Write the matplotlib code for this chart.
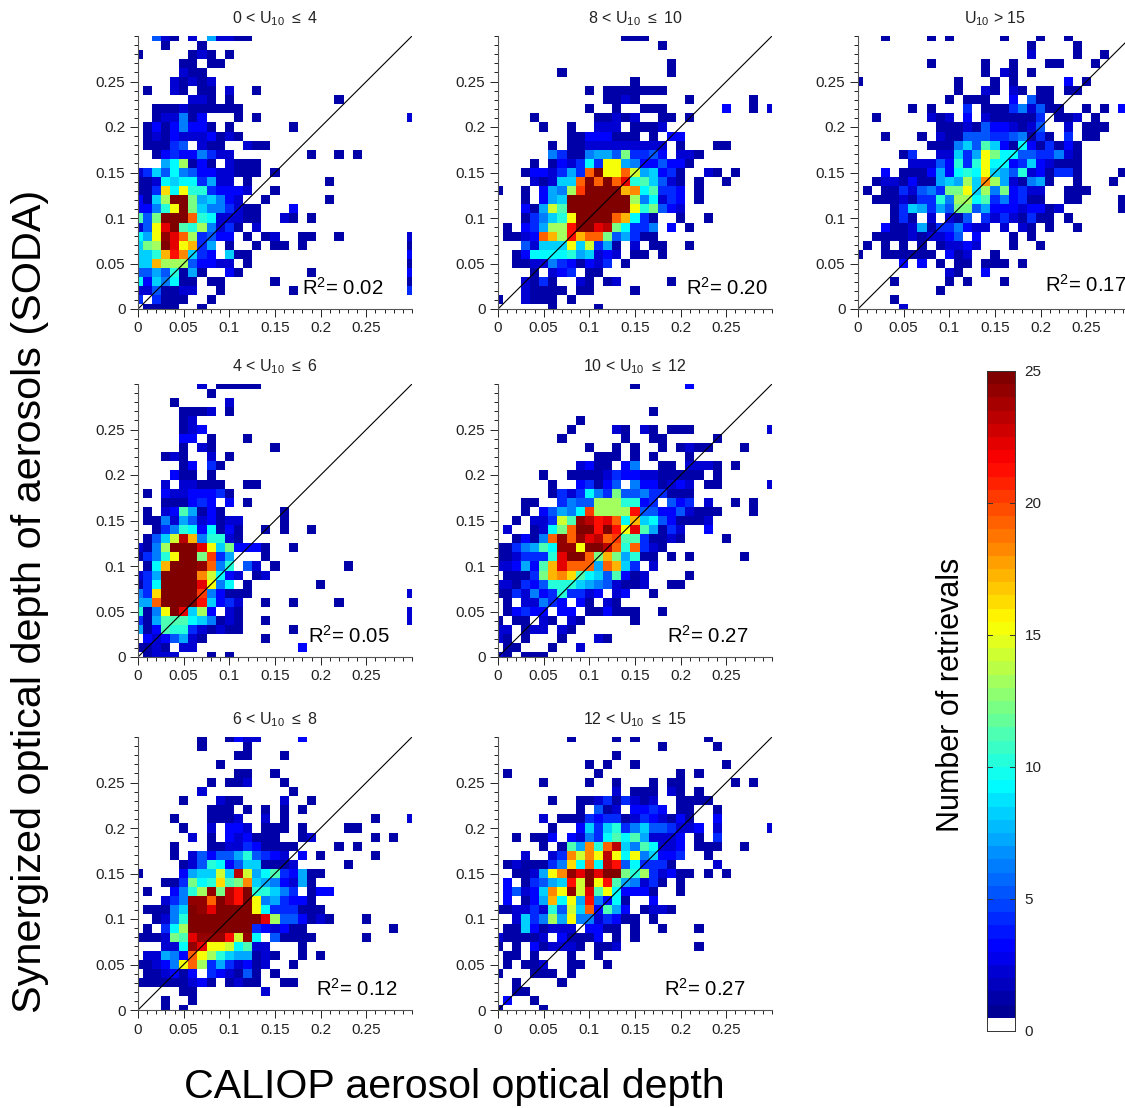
import numpy as np
import matplotlib
matplotlib.use('Agg')
from matplotlib import pyplot as plt
from matplotlib.colors import ListedColormap, LinearSegmentedColormap, Normalize

W, H = 1125, 1108
plt.rcParams['font.family'] = ['Liberation Sans', 'DejaVu Sans']
plt.rcParams['mathtext.default'] = 'regular'

# counts per cell, top row (0.30) first, left column (0) first
# . = 0, 1-9, a = 10 ... p = 25, short rows are empty to the right
p_0_4 = [
    "..521.2.72211", "...1...1", "1.....121.1", ".....11.11", ".....211", "....21212",
    ".1..21.11.2..1", "......221.1...........1", "..1112111111",
    "..122613...1.1................2", ".13136331.1......1", ".12132223121",
    ".11145.211..211", "..134336422........1..1.1", "...79d131.2111", "24859653322111.1",
    "11298994722.1........1", "114g9faa43332..1", "318dppc78632..1......1",
    "336afpc8664211...3", "b5cpppja922211..21.1", "25fmpbad6241.2",
    "97fomjd4533.1.12..11..1.......2", "8cdpmfh47.1..1.11.1...........1",
    "88ahli843.811.................3", "88hddd53322.1.................1",
    "5575a171..31.......1..........3", "9386911.11.....1..............1",
    "2251122..1.......1............4", "4.4111..1", ".1111..1",
]
p_8_10 = [
    "..............111", "..................1", "", "...................1",
    ".......1...........1", "...............1", "..........1.1111111",
    "............1121.....1......1", "..........1..1..111......3..1.2",
    "....1......11212..11.1", ".....1..1..222.1112",
    "........11333111.1.33", "......1.11222222222.1...11", "......64116775c4453.221",
    "....1.132494ff76335331", "...1332474jpffje78341..21.1", "....21288jpjpjmab8521.1..1",
    "1..1.376dkpppphi9b443.1", "...1.378pppppppd69243.1", "...317ebpppppppfac532",
    "...1468afppppjh941..1..1", ".1.347ddlppmnc9446.3.1", ".1123jhdlhjjc57411",
    "...52888f8e471.2.11..1", "..139999a78232.11.1", "..11226431324.1",
    "....1.234.11", "...2141..21.12.....1", "...21111.11....1", "1..2111.1", "......1....1",
]
p_over_15 = [
    "...1....1.1.....1...1..1", "...................1....1", "...................2....1..1",
    "........1.....1..1...11...1", "..............1.21.1", "1..........1...1.1.....3.1",
    "...........1..21.21.11.11", "..........1.111..3.511", "......1.1...4.111462511..1.1.3",
    "..1.....212.3.2111114.112.1", ".........111215332125..2.111",
    "...1...1.2115554456141.4.11", "........111685b8319314131",
    ".....14..22847fc995544621", "......22253a4af9934832111", "...3.1113739a9f875a231441....1",
    "..1221311787d8id721671..1...1", ".1.1142564ccf8d6c3422..111",
    "..1112144a6dd9b463411..11....1", "....1487475cc5733323312......1",
    "....141.2.215.42421411.1", "...311271446322.2.21.1..1", "..1111212235.3...1.1",
    ".1.1.1.1.12232...1..1", "1..111111.312..1", ".....3.3.1.11.111.1",
    "..........21..3", "....1.....1.1...1", ".........1", "....1", ".....2",
]
p_4_6 = [
    ".......2.11111", "........1", "....1.....2", ".....1112.1", ".....12", ".....123",
    ".....33.1...1", ".....1.21......1", "...121..2.1", ".....13.41", "....311.1",
    "...2.22111..11", ".1.32233341", "...111343.3.1", ".1.23b7131......1",
    ".11627523122....1", "..146a939131..1.1..1", ".158enh6aa21", "216dpppmf8c3331..1",
    "146afppck47...1", ".19hpppoj6a.52.1.......1", "247ppppie932.12",
    "149ppppmf69.1.......1", "64gppppk63111.................2",
    "77jppppl8342..1..1....1", "a16fpm8d3.21..................2",
    "417bbb986121..1...............2", "713baa421211.....1", ".3235721......1",
    "1121.22...........3", ".1222...1.1",
]
p_10_12 = [
    "...............1.....3", "", "", ".................1", ".........1",
    "........1....21.21.111........2", ".......1......1..11.....1",
    "..........1..1.1..1.1211...1", "...........111.1.1...1", ".........2311.36..11.2221.1",
    ".....1..111124332211111.1", "......1..34135.6331232.11.....2",
    "......1424964c55644111", "...11..4655dddaa34.534.2..1.1",
    "...1.35769kddddl553352111...1", "..1.224ebonlmj9h89531112",
    ".2..129cjpplplfmb7142..3", "..1316jojomnjkbb41121....1", "11467b9oofppnjaj421",
    "112444amppjchc7a11.1.1.....1", "22373bhmjjj7jh84.2", ".1114chigb985b312....1",
    "221435aaa87652112..11", "1142634a4423.23..1", ".1.22643.31.21", ".13433.33.113111..1",
    "1.11.21.21.....1", "22.122.21", "21.1...1...21", ".11...1..2", "21.111",
]
p_6_8 = [
    ".......1..1322....3", ".......1....1", "...........11...1", ".........1",
    "...........11..1", "........1.112...1", ".......2.........1",
    ".....1...211....2..1", "........111.1.1.1.1", "....1...1112..2.1.........1...2",
    ".....1..2.332.111.1....11", "......2.1.323111..12......1.1",
    "....1...1122431111....1.1", "....1.253557a5432.3.1.....1",
    ".....125a935881112.....1", "1....3788e8ne79b43711", "...114c9agbci8763271",
    ".1..36adocnlpaa864.133", "...246oojpnlpf674331", ".11168pomppppf9444111",
    "..126appppppppmd553121...1", ".1.49dppppppp432311.........1",
    "1112cbmoooleo9.51111.....1", "...229omffe9b22...1", ".22763jfda877121..1.1",
    "11236fjd4742312..1", ".112313.432151.1", "111111231.1211..11",
    ".....11.......2", "...1..1", "...1.1",
]
p_12_15 = [
    "........1....1.1.......1", "..................1.....1", ".............1",
    "..........1.1..1.........1", ".1.........1........1.1",
    ".....1....1..1...1.11.....1.1", ".............2.111.21.1",
    "......1..112414212..1111", ".........1.512.3343.11..1",
    ".....2.111434412432131..3", "......1..3848a468554223.2.....2",
    "..1.113.32649b9b72223.1.4", ".....1.1b7iajn86b9223.111..1",
    "...2..24ieifnf9f68334..1", ".1211146g9j9nl594441....2",
    "..1127fiompmppcad42311.1.1", ".3.14578lepflb76241.1",
    ".35238ifoembf93331..1", ".3.137h9f7l6391..3", "112242a5e8j3b73.1221",
    "..2846d7f6624311.1", ".11831222.3311.1..1...1", "211112.31113.1.1",
    "1.1.312221.112........1", ".11.1...1..1", ".1.112..11..1", "1...111.1",
    "..1....1", "..11", ".3..1", "1....1",
]

titles = ['0 < U$_{10}$ $\\leq$ 4', '8 < U$_{10}$ $\\leq$ 10', 'U$_{10}$ > 15',
          '4 < U$_{10}$ $\\leq$ 6', '10 < U$_{10}$ $\\leq$ 12',
          '6 < U$_{10}$ $\\leq$ 8', '12 < U$_{10}$ $\\leq$ 15']
r2_labels = ['0.02', '0.20', '0.17', '0.05', '0.27', '0.12', '0.27']
panels = [p_0_4, p_8_10, p_over_15, p_4_6, p_10_12, p_6_8, p_12_15]
tick_vals = [0, 0.05, 0.1, 0.15, 0.2, 0.25]
tick_text = ['0', '0.05', '0.1', '0.15', '0.2', '0.25']
cbar_ticks = [0, 5, 10, 15, 20, 25]

# pixel layout: left, top of axes, then R2 text left, centre
boxes = [(138, 36), (498, 36), (858, 36), (138, 384), (498, 384), (138, 737), (498, 737)]
r2_pos = [(302, 288), (686, 288), (1045, 285), (308, 636), (667, 636), (316, 989), (664, 989)]
AX_W, AX_H = 274, 273


def counts(rows):
    cells = np.zeros((31, 31))
    for i, row in enumerate(rows):
        for j, ch in enumerate(row):
            if ch != '.':
                cells[30 - i, j] = int(ch, 36)
    return cells


def px_axes(fig, x, y, w, h):
    return fig.add_axes([x / W, 1 - (y + h) / H, w / W, h / H])


# jet-like scale
anchors = [(0, (0, 0, 0.5)), (3 / 25, (0, 0, 1)), (9.3 / 25, (0, 1, 1)),
           (15.5 / 25, (1, 1, 0)), (21.8 / 25, (1, 0, 0)), (1, (0.5, 0, 0))]
ramp = LinearSegmentedColormap.from_list('ramp', anchors)
colors = ramp(np.linspace(0, 1, 50))
colors[0] = (1, 1, 1, 1)
cmap = ListedColormap(colors)
norm = Normalize(0, 25)
edges = (np.arange(32) - 0.5) * 0.01

fig = plt.figure(figsize=(W / 100, H / 100), dpi=100)

for rows, box, title, r2, pos in zip(panels, boxes, titles, r2_labels, r2_pos):
    ax = px_axes(fig, box[0], box[1], AX_W, AX_H)
    ax.pcolormesh(edges, edges, np.ma.masked_equal(counts(rows), 0), cmap=cmap, norm=norm)
    ax.plot([0, 0.3], [0, 0.3], color='black', lw=0.8)
    ax.set_xlim(0, 0.3)
    ax.set_ylim(0, 0.3)
    ax.set_xticks(tick_vals, tick_text)
    ax.set_yticks(tick_vals, tick_text)
    ax.set_xticks(np.arange(0, 0.301, 0.01), minor=True)
    ax.set_yticks(np.arange(0, 0.301, 0.01), minor=True)
    ax.tick_params(which='major', length=6, width=0.7, labelsize=11, pad=3, colors='#222222')
    ax.tick_params(which='minor', length=3, width=0.7, colors='#222222')
    ax.spines['top'].set_visible(False)
    ax.spines['right'].set_visible(False)
    ax.spines['left'].set_color('#555555')
    ax.spines['bottom'].set_color('#555555')
    fig.text((box[0] + AX_W / 2) / W, 1 - (box[1] - 17) / H, title, fontsize=11.5,
             ha='center', va='center', color='#222222')
    fig.text(pos[0] / W, 1 - pos[1] / H, 'R$^2$= ' + r2, fontsize=14.7, ha='left', va='center')

# colour bar
cax = px_axes(fig, 987, 371, 28, 660)
levels = np.linspace(0, 25, 51)
cax.pcolormesh([0, 1], levels, ((levels[:-1] + levels[1:]) / 2)[:, None], cmap=cmap, norm=norm)
cax.set_xticks([])
cax.set_yticks(cbar_ticks)
cax.yaxis.tick_right()
cax.tick_params(axis='y', length=0, labelsize=11, pad=7, colors='#222222')
for t in cbar_ticks[1:-1]:
    cax.plot([0, 0.18], [t, t], color='#333333', lw=0.7)
    cax.plot([0.82, 1], [t, t], color='#333333', lw=0.7)
cax.set_xlim(0, 1)
cax.set_ylim(0, 25)
for s in cax.spines.values():
    s.set_linewidth(0.7)
    s.set_color('#333333')

fig.text(30 / W, 1 - 601 / H, 'Synergized optical depth of aerosols (SODA)', fontsize=29.8,
         rotation=90, ha='center', va='center')
fig.text(454 / W, 1 - 1087 / H, 'CALIOP aerosol optical depth', fontsize=29.6,
         ha='center', va='center')
fig.text(951 / W, 1 - 695 / H, 'Number of retrievals', fontsize=22,
         rotation=90, ha='center', va='center')

fig.savefig('out.png', dpi=100)
